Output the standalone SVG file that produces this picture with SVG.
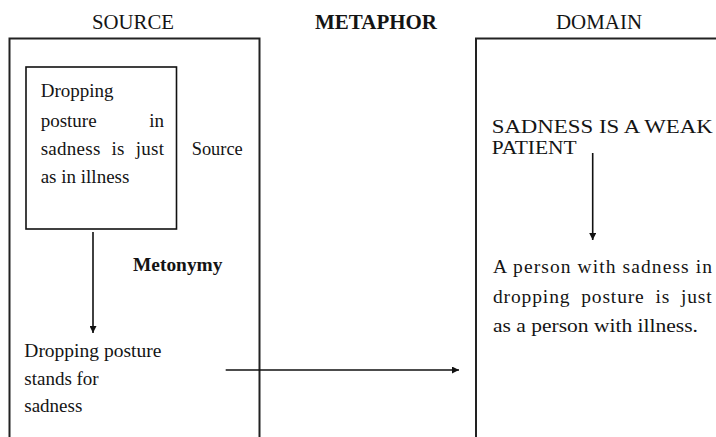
<svg xmlns="http://www.w3.org/2000/svg" width="716" height="437" viewBox="0 0 716 437">
<defs>
<style>
text{font-family:'Liberation Serif','Times New Roman','DejaVu Serif',serif;fill:#141414}
.h{font-size:20px}
.b{font-weight:bold}
.s{font-size:19px}
.d{font-size:19.5px}
.m{font-size:18.5px}
.box{fill:none;stroke:#222;stroke-width:2}
.ibox{fill:none;stroke:#111;stroke-width:1.6}
.con{fill:none;stroke:#111;stroke-width:1.6}
</style>
<marker id="ah" viewBox="0 0 10 10" refX="10" refY="5" markerWidth="8" markerHeight="7" markerUnits="userSpaceOnUse" orient="auto">
<path d="M0,0 L10,5 L0,10 z" fill="#111"/>
</marker>
</defs>
<rect width="716" height="437" fill="#fff"/>

<g id="titles">
<text class="h" x="92" y="29" textLength="82" lengthAdjust="spacingAndGlyphs">SOURCE</text>
<text class="h b" x="315" y="29" textLength="122" lengthAdjust="spacingAndGlyphs">METAPHOR</text>
<text class="h" x="556" y="29" textLength="86" lengthAdjust="spacingAndGlyphs">DOMAIN</text>
</g>

<g id="source-frame">
<path class="box" d="M9.5,437 V38.5 H259.5 V437"/>
</g>

<g id="domain-frame">
<path class="box" d="M476,437 V38.5 H716"/>
</g>

<g id="source-box">
<rect class="ibox" x="26" y="67" width="150.5" height="162"/>
<text class="s" x="40.7" y="97.3">Dropping</text>
<text class="s" x="40.7" y="126.5">posture</text>
<text class="s" x="164" y="126.5" text-anchor="end">in</text>
<text class="s" x="40.7" y="155" textLength="123.3" lengthAdjust="spacing" word-spacing="6">sadness is just</text>
<text class="s" x="40.7" y="183.3">as in illness</text>
</g>

<g id="source-label">
<text class="s" x="191.7" y="155" textLength="51" lengthAdjust="spacingAndGlyphs">Source</text>
</g>

<g id="metonymy-label">
<text class="s b" x="133" y="270.5" textLength="89.5" lengthAdjust="spacingAndGlyphs">Metonymy</text>
</g>

<g id="stands-for">
<text class="s" x="24.3" y="357" textLength="137" lengthAdjust="spacingAndGlyphs">Dropping posture</text>
<text class="s" x="24.3" y="385.3">stands for</text>
<text class="s" x="24.3" y="411.8">sadness</text>
</g>

<g id="domain-metaphor">
<text class="m" x="491.7" y="132.7" textLength="221" lengthAdjust="spacingAndGlyphs">SADNESS IS A WEAK</text>
<text class="m" x="491.7" y="154" textLength="85" lengthAdjust="spacingAndGlyphs">PATIENT</text>
</g>

<g id="domain-person">
<text class="d" x="493" y="273" textLength="219" lengthAdjust="spacing">A person with sadness in</text>
<text class="d" x="493" y="302.5" textLength="218.7" lengthAdjust="spacing" word-spacing="5">dropping posture is just</text>
<text class="d" x="493" y="331.5" textLength="205" lengthAdjust="spacingAndGlyphs">as a person with illness.</text>
</g>

<g id="connectors">
<line class="con" x1="93" y1="232" x2="93" y2="333" marker-end="url(#ah)"/>
<line class="con" x1="592.7" y1="153" x2="592.7" y2="240" marker-end="url(#ah)"/>
<line class="con" x1="225.7" y1="370" x2="459" y2="370" marker-end="url(#ah)"/>
</g>
</svg>
